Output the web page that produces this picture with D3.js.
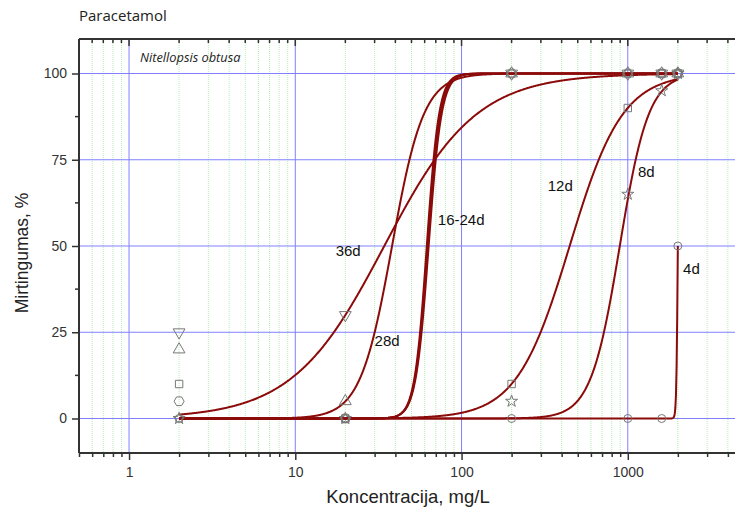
<!DOCTYPE html>
<html><head><meta charset="utf-8">
<script src="https://cdn.jsdelivr.net/npm/d3@7"></script>
<style>
body{margin:0;background:#fff;}
svg{display:block;}
</style></head>
<body>
<svg id="c" width="735" height="513"></svg>
<script>
// ---- data ----
const concentrations = [2, 20, 200, 1000, 1600, 2000];
const seriesNames = ["4d", "8d", "12d", "16-24d", "28d", "36d"];
const seriesSymbols = ["circle", "star", "square", "hexagon", "triangle", "triangleDown"];
const values4d   = [0, 0, 0, 0, 0, 50];
const values8d   = [0, 0, 5, 65, 95, 100];
const values12d  = [10, 0, 10, 90, 100, 100];
const values1624 = [5, 0, 100, 100, 100, 100];
const values28d  = [20, 5, 100, 100, 100, 100];
const values36d  = [25, 30, 100, 100, 100, 100];
const seriesValues = [values4d, values8d, values12d, values1624, values28d, values36d];
// fitted logistic curves: EC50 and slope
const fitNames = ["4d", "8d", "12d", "16d", "20d", "24d", "28d", "36d"];
const fitEC50  = [2000, 895, 447, 61.8, 62.6, 63.4, 38.2, 34.3];
const fitSlope = [100, 5, 2.73, 11.8, 11.5, 11.2, 4.56, 1.573];
const curveLabels = ["4d", "8d", "12d", "16-24d", "28d", "36d"];
const labelX = [2150, 1150, 330, 72, 30, 17.5];
const labelY = [42, 70, 66, 56, 21, 47];
const xTickValues = [1, 10, 100, 1000];
const yTickValues = [0, 25, 50, 75, 100];

// ---- layout ----
const svg = d3.select("#c");
const x = d3.scaleLog().domain([0.5, 5000]).range([79, 744]);
const y = d3.scaleLinear().domain([-10, 110]).range([453, 39]);
const pLeft = 79, pTop = 39, pBottom = 453;
const curveColor = "#8b0a0a";

// minor grid (green dotted)
const minor = [];
for (let d = -1; d <= 3; d++) for (let k = 2; k <= 9; k++) {
  const v = k * Math.pow(10, d);
  if (v >= 0.5 && v <= 5000) minor.push(v);
}
svg.append("g").selectAll("line").data(minor).join("line")
  .attr("x1", d => x(d)).attr("x2", d => x(d)).attr("y1", pTop).attr("y2", pBottom)
  .attr("stroke", "#b4f0b4").attr("stroke-width", 1).attr("stroke-dasharray", "1,1");
// major grid
svg.append("g").selectAll("line").data(xTickValues).join("line")
  .attr("x1", d => x(d)).attr("x2", d => x(d)).attr("y1", pTop).attr("y2", pBottom)
  .attr("stroke", "#8080ff").attr("stroke-width", 1);
svg.append("g").selectAll("line").data(yTickValues).join("line")
  .attr("x1", pLeft).attr("x2", 735).attr("y1", d => y(d)).attr("y2", d => y(d))
  .attr("stroke", "#8080ff").attr("stroke-width", 1);

// axes
const allTicks = [...minor, ...xTickValues].sort((a, b) => a - b);
const fmt = d => xTickValues.includes(d) ? String(d) : "";
const xAxis = d3.axisBottom(x).tickValues(allTicks).tickFormat(fmt)
  .tickSize(0).tickPadding(14);
const gx = svg.append("g").attr("transform", `translate(0,${pBottom})`).call(xAxis);
gx.select(".domain").remove();
gx.selectAll(".tick").append("line")
  .attr("y1", 0).attr("y2", d => xTickValues.includes(d) ? 7 : 4)
  .attr("stroke", "#333").attr("stroke-width", 1.5);
gx.selectAll("text").attr("font-family", "Liberation Sans, Arial, sans-serif")
  .attr("font-size", 14).attr("fill", "#333").attr("dy", "0.71em");

const gt = svg.append("g").attr("transform", `translate(0,${pTop})`);
gt.selectAll("line").data(allTicks).join("line")
  .attr("x1", d => x(d)).attr("x2", d => x(d))
  .attr("y1", 0).attr("y2", d => xTickValues.includes(d) ? 7 : 4)
  .attr("stroke", "#333").attr("stroke-width", 1.5);

const yAxis = d3.axisLeft(y).tickValues(yTickValues).tickSize(7).tickPadding(5);
const gy = svg.append("g").attr("transform", `translate(${pLeft},0)`).call(yAxis);
gy.select(".domain").remove();
gy.selectAll("line").attr("stroke", "#333").attr("stroke-width", 1.5);
gy.selectAll("text").attr("font-family", "Liberation Sans, Arial, sans-serif")
  .attr("font-size", 14).attr("fill", "#333");
svg.append("g").selectAll("line").data([12.5, 37.5, 62.5, 87.5]).join("line")
  .attr("x1", pLeft - 4).attr("x2", pLeft).attr("y1", d => y(d)).attr("y2", d => y(d))
  .attr("stroke", "#333").attr("stroke-width", 1.5);

// axis lines
svg.append("line").attr("x1", pLeft).attr("x2", pLeft).attr("y1", pTop).attr("y2", pBottom)
  .attr("stroke", "#333").attr("stroke-width", 2);
svg.append("line").attr("x1", pLeft).attr("x2", 735).attr("y1", pBottom).attr("y2", pBottom)
  .attr("stroke", "#333").attr("stroke-width", 2);
svg.append("line").attr("x1", pLeft).attr("x2", 735).attr("y1", pTop).attr("y2", pTop)
  .attr("stroke", "#333").attr("stroke-width", 2);

// curves
const xs = d3.range(0, 801).map(i => 2 * Math.pow(1000, i / 800));
const line = d3.line().x(d => x(d[0])).y(d => y(d[1]));
fitNames.forEach((n, i) => {
  const pts = xs.map(c => [c, 100 / (1 + Math.pow(fitEC50[i] / c, fitSlope[i]))]);
  svg.append("path").attr("d", line(pts)).attr("fill", "none")
    .attr("stroke", curveColor).attr("stroke-width", 2);
});

// markers
const hexagon = {
  draw(ctx, size) {
    const r = Math.sqrt(size / (1.5 * Math.sqrt(3)));
    for (let k = 0; k < 6; k++) {
      const a = Math.PI / 3 * k;
      const px = r * Math.cos(a), py = r * Math.sin(a);
      if (k === 0) ctx.moveTo(px, py); else ctx.lineTo(px, py);
    }
    ctx.closePath();
  }
};
const triDown = {
  draw(ctx, size) {
    const yy = -Math.sqrt(size / (Math.sqrt(3) * 3));
    ctx.moveTo(0, -yy * 2);
    ctx.lineTo(-Math.sqrt(3) * yy, yy);
    ctx.lineTo(Math.sqrt(3) * yy, yy);
    ctx.closePath();
  }
};
const symMap = {
  circle: [d3.symbolCircle, 50], star: [d3.symbolStar, 45], square: [d3.symbolSquare, 55],
  hexagon: [hexagon, 65], triangle: [d3.symbolTriangle, 60], triangleDown: [triDown, 60]
};
seriesNames.forEach((n, i) => {
  const [t, s] = symMap[seriesSymbols[i]];
  const sym = d3.symbol().type(t).size(s);
  svg.append("g").selectAll("path").data(concentrations.map((c, j) => [c, seriesValues[i][j]]))
    .join("path")
    .attr("transform", d => `translate(${x(d[0])},${y(d[1])})`)
    .attr("d", sym).attr("fill", "none").attr("stroke", "#777").attr("stroke-width", 1);
});

// curve labels
svg.append("g").selectAll("text").data(curveLabels).join("text")
  .attr("x", (d, i) => x(labelX[i])).attr("y", (d, i) => y(labelY[i]))
  .text(d => d)
  .attr("font-family", "Liberation Sans, Arial, sans-serif").attr("font-size", 15).attr("fill", "#111");

// titles
svg.append("text").attr("x", 79).attr("y", 21).text("Paracetamol")
  .attr("font-family", "Open Sans, sans-serif").attr("font-size", 15).attr("fill", "#222");
svg.append("text").attr("x", 140).attr("y", 62).text("Nitellopsis obtusa")
  .attr("font-family", "Open Sans, sans-serif").attr("font-style", "italic")
  .attr("font-size", 12.8).attr("fill", "#222");
svg.append("text").attr("x", 408).attr("y", 503).attr("text-anchor", "middle")
  .text("Koncentracija, mg/L")
  .attr("font-family", "Liberation Sans, Arial, sans-serif").attr("font-size", 18.5).attr("fill", "#222");
svg.append("text").attr("transform", "translate(28,253) rotate(-90)").attr("text-anchor", "middle")
  .text("Mirtingumas, %")
  .attr("font-family", "Liberation Sans, Arial, sans-serif").attr("font-size", 17.5).attr("fill", "#222");
</script>
</body></html>
